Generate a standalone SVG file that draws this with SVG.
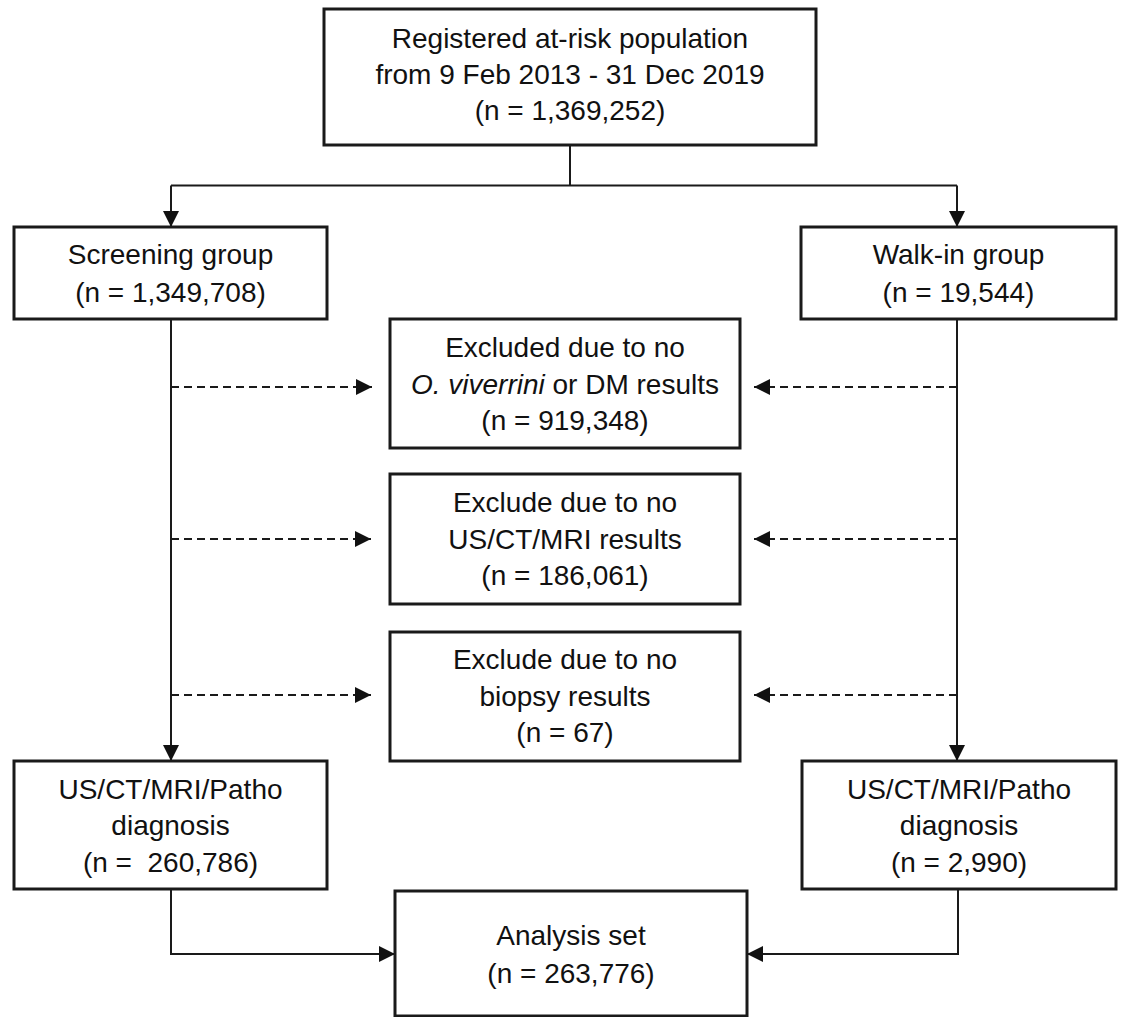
<svg xmlns="http://www.w3.org/2000/svg" width="1121" height="1017" viewBox="0 0 1121 1017">
<style>
.box{fill:#fff;stroke:#1a1a1a;stroke-width:3}
.t{font-family:"Liberation Sans",Arial,sans-serif;font-size:28px;fill:#111;text-anchor:middle}
.c{fill:none;stroke:#1a1a1a;stroke-width:2}
.d{fill:none;stroke:#1a1a1a;stroke-width:2;stroke-dasharray:8 5}
</style>
<defs>
<marker id="ah" viewBox="0 0 10 10" refX="10" refY="5" markerWidth="8" markerHeight="8" markerUnits="strokeWidth" orient="auto">
<path d="M0,0 L10,5 L0,10 Z" fill="#111"/>
</marker>
</defs>
<rect width="1121" height="1017" fill="#fff"/>
<g id="connectors">
<path class="c" d="M570,145 V185.5"/>
<path class="c" d="M171,185.5 H957"/>
<path class="c" d="M171,185.5 V227" marker-end="url(#ah)"/>
<path class="c" d="M957,185.5 V227" marker-end="url(#ah)"/>
<path class="c" d="M171,319 V761" marker-end="url(#ah)"/>
<path class="c" d="M957,319 V761" marker-end="url(#ah)"/>
<path class="d" d="M171,387 H372" marker-end="url(#ah)"/>
<path class="d" d="M957,387 H754" marker-end="url(#ah)"/>
<path class="d" d="M171,539 H371" marker-end="url(#ah)"/>
<path class="d" d="M957,539 H754" marker-end="url(#ah)"/>
<path class="d" d="M171,695 H371" marker-end="url(#ah)"/>
<path class="d" d="M957,695 H754" marker-end="url(#ah)"/>
<path class="c" d="M171,889 V954 H395" marker-end="url(#ah)"/>
<path class="c" d="M958,889 V954 H747" marker-end="url(#ah)"/>
</g>
<g id="top">
<rect class="box" x="324" y="9" width="492" height="136"/>
<text class="t" x="570" y="48">Registered at-risk population</text>
<text class="t" x="570" y="84">from 9 Feb 2013 - 31 Dec 2019</text>
<text class="t" x="570" y="120">(n = 1,369,252)</text>
</g>
<g id="screening">
<rect class="box" x="14" y="227" width="313" height="92"/>
<text class="t" x="170.5" y="264">Screening group</text>
<text class="t" x="170.5" y="302">(n = 1,349,708)</text>
</g>
<g id="walkin">
<rect class="box" x="801" y="227" width="315" height="92"/>
<text class="t" x="958.5" y="264">Walk-in group</text>
<text class="t" x="958.5" y="302">(n = 19,544)</text>
</g>
<g id="excl1">
<rect class="box" x="390" y="319" width="350" height="129"/>
<text class="t" x="565" y="357">Excluded due to no</text>
<text class="t" x="565" y="394"><tspan font-style="italic">O. viverrini</tspan> or DM results</text>
<text class="t" x="565" y="430">(n = 919,348)</text>
</g>
<g id="excl2">
<rect class="box" x="390" y="474" width="350" height="130"/>
<text class="t" x="565" y="512">Exclude due to no</text>
<text class="t" x="565" y="549">US/CT/MRI results</text>
<text class="t" x="565" y="585">(n = 186,061)</text>
</g>
<g id="excl3">
<rect class="box" x="390" y="632" width="350" height="129"/>
<text class="t" x="565" y="669">Exclude due to no</text>
<text class="t" x="565" y="706">biopsy results</text>
<text class="t" x="565" y="742">(n = 67)</text>
</g>
<g id="diagLeft">
<rect class="box" x="14" y="761" width="313" height="128"/>
<text class="t" x="170.5" y="799">US/CT/MRI/Patho</text>
<text class="t" x="170.5" y="835">diagnosis</text>
<text class="t" x="170.5" y="872" xml:space="preserve">(n =  260,786)</text>
</g>
<g id="diagRight">
<rect class="box" x="802" y="761" width="314" height="128"/>
<text class="t" x="959" y="799">US/CT/MRI/Patho</text>
<text class="t" x="959" y="835">diagnosis</text>
<text class="t" x="959" y="872">(n = 2,990)</text>
</g>
<g id="analysis">
<rect class="box" x="395" y="891" width="352" height="125"/>
<text class="t" x="571" y="945">Analysis set</text>
<text class="t" x="571" y="983">(n = 263,776)</text>
</g>
</svg>
